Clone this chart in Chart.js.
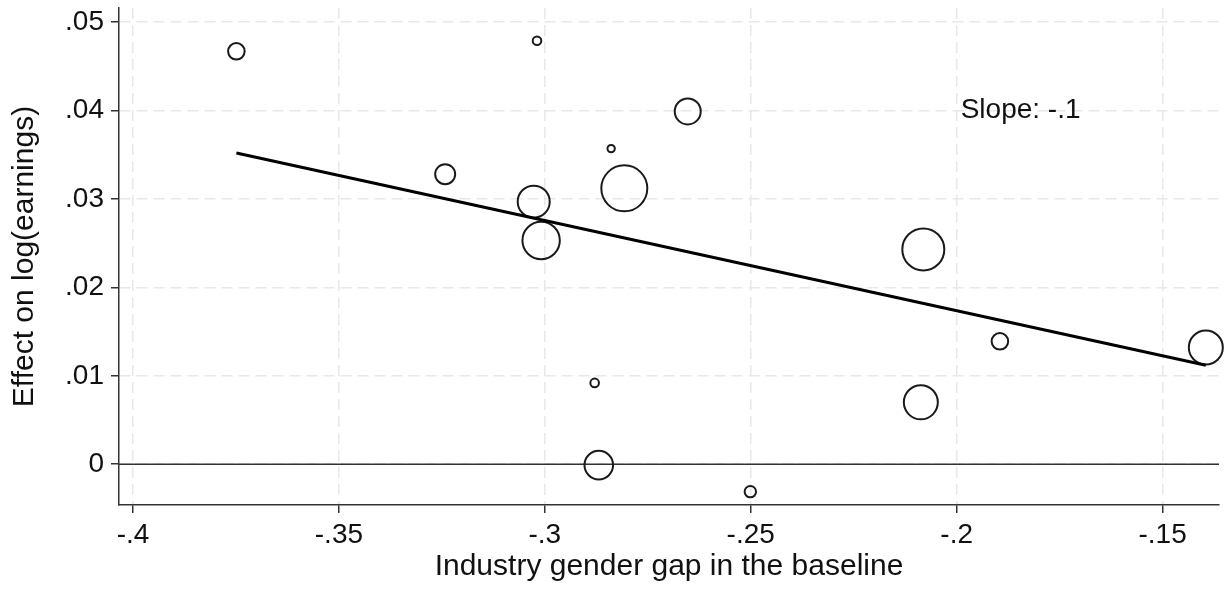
<!DOCTYPE html>
<html>
<head>
<meta charset="utf-8">
<script src="https://cdn.jsdelivr.net/npm/chart.js@4.4.1/dist/chart.umd.min.js"></script>
<style>
  html, body { margin: 0; padding: 0; background: #fff; }
  #wrap { width: 1225px; height: 590px; position: relative; }
</style>
</head>
<body>
<div id="wrap"><canvas id="chart"></canvas></div>
<script>
// Industry gender gap in the baseline (x) and effect on log earnings (y), one per industry.
const gapBaseline = [-0.3749, -0.3019, -0.2653, -0.2839, -0.3242, -0.3027, -0.2807, -0.3009,
                     -0.2081, -0.1895, -0.1395, -0.2087, -0.2879, -0.2869, -0.2501];
const effectLogEarnings = [0.0467, 0.0479, 0.0399, 0.0357, 0.0328, 0.0297, 0.0312, 0.0253,
                           0.0243, 0.0139, 0.0132, 0.0070, 0.0092, -0.0001, -0.0031];
// Industry weights (marker area).
const industryWeight = [8.6, 2.8, 19.6, 2.2, 12.1, 28.9, 57.6, 38.8, 48.4, 8.6, 32.4, 32.4, 2.8, 23.4, 4.5];

// Fitted line end points.
const fitX = [-0.3749, -0.1395];
const fitY = [0.0352, 0.0112];
const slopeLabel = 'Slope: -.1';
const slopeAt = { x: -0.2, y: 0.04 };

const xTicks = [-0.4, -0.35, -0.3, -0.25, -0.2, -0.15];
const yTicks = [0, 0.01, 0.02, 0.03, 0.04, 0.05];
const zeroLine = 0;

const FONT = '"Liberation Sans", Arial, Helvetica, sans-serif';

// Stata-style labels: drop the leading zero.
function stataLabel(v) {
    if (Math.abs(v) < 1e-12) return '0';
    return String(+v.toFixed(3)).replace('0.', '.');
}

// Keep tick labels from pushing the plot area inwards.
function noPadding(scale) {
    scale.paddingLeft = 0;
    scale.paddingRight = 0;
    scale.paddingTop = 0;
    scale.paddingBottom = 0;
}

const bubbles = gapBaseline.map((x, i) => ({
    x: x,
    y: effectLogEarnings[i],
    r: Math.sqrt(industryWeight[i] * 10) - 1
}));

const refLinePlugin = {
    id: 'refLine',
    beforeDatasetsDraw(chart) {
        const { ctx, chartArea, scales } = chart;
        const py = scales.y.getPixelForValue(zeroLine);
        ctx.save();
        ctx.strokeStyle = '#333';
        ctx.lineWidth = 1.5;
        ctx.beginPath();
        ctx.moveTo(chartArea.left, py);
        ctx.lineTo(chartArea.right, py);
        ctx.stroke();
        ctx.restore();
    }
};

const slopeTextPlugin = {
    id: 'slopeText',
    afterDatasetsDraw(chart) {
        const { ctx, scales } = chart;
        const px = scales.x.getPixelForValue(slopeAt.x);
        const py = scales.y.getPixelForValue(slopeAt.y);
        ctx.save();
        ctx.font = '28px ' + FONT;
        ctx.fillStyle = '#111';
        ctx.textAlign = 'left';
        ctx.textBaseline = 'middle';
        ctx.fillText(slopeLabel, px + 4, py);
        ctx.restore();
    }
};

new Chart(document.getElementById('chart'), {
    type: 'bubble',
    data: {
        datasets: [
            {
                type: 'line',
                data: fitX.map((x, i) => ({ x: x, y: fitY[i] })),
                borderColor: '#000',
                borderWidth: 3,
                pointRadius: 0,
                fill: false,
                clip: false,
                order: 1
            },
            {
                data: bubbles,
                backgroundColor: 'rgba(0,0,0,0)',
                borderColor: '#1a1a1a',
                borderWidth: 2,
                clip: false,
                order: 2
            }
        ]
    },
    options: {
        responsive: true,
        maintainAspectRatio: false,
        animation: false,
        events: [],
        layout: { autoPadding: false, padding: { top: 8, right: 6, left: 0, bottom: 0 } },
        plugins: {
            legend: { display: false },
            tooltip: { enabled: false }
        },
        scales: {
            x: {
                type: 'linear',
                min: -0.4034,
                max: -0.1363,
                afterBuildTicks: scale => { scale.ticks = xTicks.map(v => ({ value: v })); },
                afterFit: scale => {
                    scale.height = 85;
                    noPadding(scale);
                },
                ticks: {
                    callback: v => stataLabel(v),
                    font: { family: FONT, size: 28 },
                    color: '#111',
                    padding: 5,
                    maxRotation: 0,
                    autoSkip: false
                },
                grid: {
                    color: '#e8e8e8',
                    lineWidth: 1.5,
                    tickColor: '#333',
                    tickLength: 8,
                    tickWidth: 1.5
                },
                border: { display: true, color: '#333', width: 1.5, dash: [11, 6] },
                title: {
                    display: true,
                    text: 'Industry gender gap in the baseline',
                    font: { family: FONT, size: 30 },
                    color: '#111',
                    padding: { top: 0, bottom: 5 }
                }
            },
            y: {
                type: 'linear',
                min: -0.00461,
                max: 0.0516,
                afterBuildTicks: scale => { scale.ticks = yTicks.map(v => ({ value: v })); },
                afterFit: scale => {
                    scale.width = 119;
                    noPadding(scale);
                },
                ticks: {
                    callback: v => stataLabel(v),
                    font: { family: FONT, size: 28 },
                    color: '#111',
                    padding: 7,
                    autoSkip: false
                },
                grid: {
                    color: '#e8e8e8',
                    lineWidth: 1.5,
                    tickColor: '#333',
                    tickLength: 8,
                    tickWidth: 1.5
                },
                border: { display: true, color: '#333', width: 1.5, dash: [11, 6] },
                title: {
                    display: true,
                    text: 'Effect on log(earnings)',
                    font: { family: FONT, size: 30 },
                    color: '#111',
                    padding: { top: 7, bottom: 0 }
                }
            }
        }
    },
    plugins: [refLinePlugin, slopeTextPlugin]
});
</script>
</body>
</html>
